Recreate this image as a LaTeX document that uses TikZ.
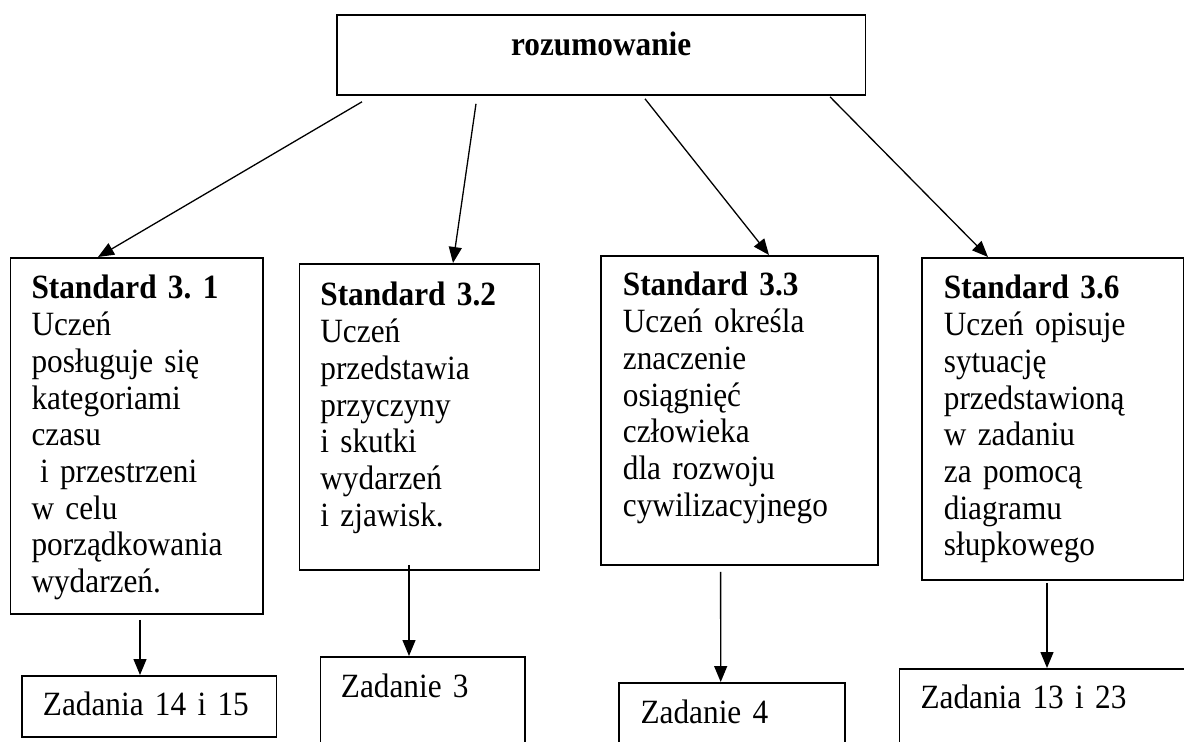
\documentclass[tikz,border=0pt]{standalone}
\usepackage{fontspec}
\setmainfont[FakeStretch=0.92]{Liberation Serif}
\usetikzlibrary{arrows.meta}
\frenchspacing

\begin{document}
\begin{tikzpicture}[
  x=1pt,y=-1pt,
  card/.style={draw=black,line width=1.8pt,anchor=north west,inner xsep=21pt,inner ysep=0pt,
    align=left,font=\fontsize{34}{36.7}\selectfont},
  topcard/.style={card,inner xsep=0pt,align=center},
  link/.style={draw=black,line width=1.3pt,-{Triangle[length=16pt,width=13pt]}}
]
\fill[white,use as bounding box] (0,0) rectangle (1184,742);
\clip (0,0) rectangle (1184,742);

\node[topcard,text width=528.5pt,text height=41pt,text depth=39pt] (top) at (336,14) {\textbf{rozumowanie}};

\node[card,text width=210.4pt,text height=41pt,text depth=315pt] (s31) at (9.6,257)
  {\textbf{Standard 3. 1}\\Uczeń\\posługuje się\\kategoriami\\czasu\\\hspace*{0.25em}i przestrzeni\\w celu\\porządkowania\\wydarzeń.};
\node[card,text width=198pt,text height=42pt,text depth=264pt] (s32) at (298.5,263)
  {\textbf{Standard 3.2}\\Uczeń\\przedstawia\\przyczyny\\i skutki\\wydarzeń\\i zjawisk.};
\node[card,inner xsep=22pt,text width=233pt,text height=40pt,text depth=269pt] (s33) at (600,255)
  {\textbf{Standard 3.3}\\Uczeń określa\\znaczenie\\osiągnięć\\człowieka\\dla rozwoju\\cywilizacyjnego};
\node[card,inner xsep=22pt,text width=218pt,text height=41pt,text depth=281pt] (s36) at (921,257)
  {\textbf{Standard 3.6}\\Uczeń opisuje\\sytuację\\przedstawioną\\w zadaniu\\za pomocą\\diagramu\\słupkowego};

\node[card,text width=212.5pt,text height=40pt,text depth=21pt] (z1) at (21,675) {Zadania 14 i 15};
\node[card,inner xsep=20.5pt,text width=163.5pt,text height=41pt,text depth=63pt] (z2) at (319.5,656) {Zadanie 3};
\node[card,inner xsep=22pt,text width=182.3pt,text height=41pt,text depth=37pt] (z3) at (617.7,682) {Zadanie 4};
\node[card,text width=259.4pt,text height=40pt,text depth=52pt] (z4) at (898.6,668) {Zadania 13 i 23};

\draw[link] ([shift={(26,6)}]top.south west) -- ([shift={(88.4,0)}]s31.north west);
\draw[link] ([shift={(140,8)}]top.south west) -- ([shift={(154.5,0)}]s32.north west);
\draw[link] ([shift={(309,3)}]top.south west) -- ([shift={(169,0)}]s33.north west);
\draw[link] ([shift={(494,1)}]top.south west) -- ([shift={(67,0)}]s36.north west);

\draw[link] ([shift={(130.4,5)}]s31.south west) -- ([shift={(119,0)}]z1.north west);
\draw[link] ([shift={(110.5,-6)}]s32.south west) -- ([shift={(89.5,0)}]z2.north west);
\draw[link] ([shift={(120.6,6)}]s33.south west) -- ([shift={(103,0)}]z3.north west);
\draw[link] ([shift={(126,2)}]s36.south west) -- ([shift={(148.4,0)}]z4.north west);
\end{tikzpicture}
\end{document}
